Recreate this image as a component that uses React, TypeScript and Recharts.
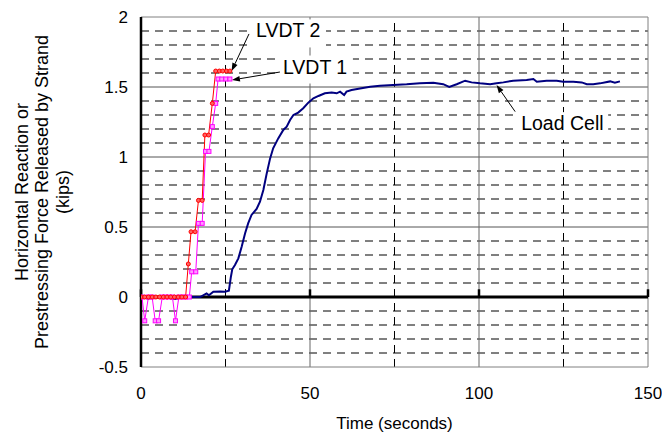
import React from 'react';
import { LineChart, Line, XAxis, YAxis, ReferenceLine } from 'recharts';

// ---- data (time in seconds, force in kips) ----
const lvdt2Time = [0, 1.1, 2.2, 3.3, 4.4, 5.5, 6.6, 7.7, 8.8, 9.9, 11.0, 12.1, 13.2, 14.0, 14.8, 16.0, 17.0, 18.1, 18.9, 20.0, 21.1, 22.1, 23.2, 24.2, 25.3, 26.3];
const lvdt2Force = [0, 0, 0, 0, 0, 0, 0, 0, 0, 0, 0, 0, 0, 0.236, 0.466, 0.466, 0.69, 0.69, 1.157, 1.157, 1.383, 1.614, 1.614, 1.614, 1.614, 1.614];

const lvdt1Time = [0.3, 1.1, 2.2, 3.3, 4.2, 5.2, 6.3, 7.3, 8.3, 9.3, 10.2, 11.2, 12.2, 13.2, 14.3, 15.0, 16.2, 17.0, 18.1, 19.1, 20.1, 21.1, 22.1, 22.8, 23.9, 25.1, 26.3];
const lvdt1Force = [0, -0.17, 0, 0, -0.17, -0.17, 0, 0, 0, 0, -0.17, 0, 0, 0, 0, 0.18, 0.18, 0.526, 0.526, 1.04, 1.04, 1.217, 1.383, 1.557, 1.557, 1.557, 1.557];

const loadCellTime = [0, 2, 4, 6, 8, 10, 11, 12, 14.5, 17.5, 19.4, 20.1, 21.4, 23.4, 24.85, 26.0, 26.6, 27.0, 27.8, 28.8, 29.8, 30.8, 31.7, 32.7, 34.2, 35.2, 36.2, 37.2, 38.2, 39.1, 40.6, 42.1, 43.1, 44.1, 45.1, 46.5, 48.0, 49.5, 51.0, 52.5, 54.4, 56.4, 57.9, 58.9, 60.1, 60.8, 62.3, 64.8, 67.8, 70.7, 74.6, 78.6, 82.5, 86.5, 89.4, 91.2, 93.4, 95.9, 97.8, 100.3, 103.3, 105.2, 107.2, 110.1, 114.1, 116.1, 117.1, 120.0, 123.0, 124.9, 127.9, 130.4, 131.9, 133.8, 135.8, 138.8, 140.2, 141.7];
const loadCellForce = [0, -0.01, -0.005, 0, -0.005, -0.015, -0.01, 0, 0, 0, 0.026, 0.012, 0.038, 0.04, 0.038, 0.045, 0.145, 0.198, 0.229, 0.276, 0.36, 0.455, 0.526, 0.586, 0.629, 0.681, 0.764, 0.883, 0.99, 1.062, 1.133, 1.193, 1.217, 1.264, 1.3, 1.317, 1.348, 1.388, 1.419, 1.436, 1.455, 1.46, 1.455, 1.467, 1.443, 1.467, 1.479, 1.49, 1.502, 1.509, 1.514, 1.519, 1.526, 1.53, 1.52, 1.5, 1.52, 1.545, 1.533, 1.526, 1.52, 1.526, 1.533, 1.545, 1.55, 1.557, 1.538, 1.545, 1.545, 1.538, 1.538, 1.533, 1.52, 1.52, 1.526, 1.54, 1.53, 1.54];

const xTicks = [0, 50, 100, 150];
const yTicks = [-0.5, 0, 0.5, 1, 1.5, 2];
const xMajorGrid = [50, 100];
const xMinorGrid = [25, 75, 125];
const yMajorGrid = [0.5, 1, 1.5];
const yMinorGrid = [-0.4, -0.3, -0.2, -0.1, 0.1, 0.2, 0.3, 0.4, 0.6, 0.7, 0.8, 0.9, 1.1, 1.2, 1.3, 1.4, 1.6, 1.7, 1.8, 1.9];
const zeroLineTicks = [0, 50, 100, 150];

const annotationLabels = ['LVDT 2', 'LVDT 1', 'Load Cell'];
const annotationTail = [
  { x: 31.95, y: 1.879 },
  { x: 41.1, y: 1.607 },
  { x: 110.7, y: 1.324 },
];
const annotationHead = [
  { x: 26.8, y: 1.614 },
  { x: 26.9, y: 1.55 },
  { x: 105.2, y: 1.514 },
];
// text placement relative to the arrow tail (pixels) - styling only
const annotationTextOffset = [
  { dx: 7, dy: 3.5, w: 66 },
  { dx: 3, dy: 1.5, w: 66 },
  { dx: 6, dy: 18.5, w: 83 },
];

const zip = (ts: number[], vs: number[]) => ts.slice(0, Math.min(ts.length, vs.length)).map((t, i) => ({ t, v: vs[i] }));
const lvdt2Data = zip(lvdt2Time, lvdt2Force);
const lvdt1Data = zip(lvdt1Time, lvdt1Force);
const loadCellData = zip(loadCellTime, loadCellForce);

const FONT = '"Liberation Sans", Arial, Helvetica, sans-serif';

const RedDot = (p: any) => {
  if (p.cx == null || p.cy == null) return <g key={p.index} />;
  return <circle key={p.index} cx={p.cx} cy={p.cy} r={2} fill="#ff6060" stroke="#ff0000" strokeWidth={1} />;
};
const MagentaDot = (p: any) => {
  if (p.cx == null || p.cy == null) return <g key={p.index} />;
  return <rect key={p.index} x={p.cx - 2} y={p.cy - 2} width={4} height={4} fill="#ff99ff" stroke="#ff00ff" strokeWidth={1} />;
};

const makeArrow = (label: string, off: { dx: number; dy: number; w: number }) => (p: any) => {
  const { x1, y1, x2, y2 } = p;
  if ([x1, y1, x2, y2].some((n) => n == null || isNaN(n))) return <g />;
  const ang = Math.atan2(y2 - y1, x2 - x1);
  const L = 8;
  const W = 2.8;
  const bx = x2 - L * Math.cos(ang);
  const by = y2 - L * Math.sin(ang);
  const px = -Math.sin(ang) * W;
  const py = Math.cos(ang) * W;
  const tx = x1 + off.dx;
  const ty = y1 + off.dy;
  return (
    <g>
      <rect x={tx - 4} y={ty - 18} width={off.w + 8} height={28} fill="#fff" />
      <line x1={x1} y1={y1} x2={bx} y2={by} stroke="#000" strokeWidth={1} />
      <polygon points={`${x2},${y2} ${bx + px},${by + py} ${bx - px},${by - py}`} fill="#000" />
      <text x={tx} y={ty} fontSize={19.5} fontFamily={FONT} fill="#000">
        {label}
      </text>
    </g>
  );
};

const XLabel = (props: any) => {
  const vb = props.viewBox || { x: 141, y: 367, width: 507, height: 60 };
  return (
    <text x={vb.x + vb.width / 2} y={428.5} textAnchor="middle" fontSize={17} fontFamily={FONT} fill="#000">
      Time (seconds)
    </text>
  );
};

const YLabel = (props: any) => {
  const vb = props.viewBox || { x: 0, y: 17, width: 141, height: 350 };
  const cy = vb.y + vb.height / 2;
  const lines = ['Horizontal Reaction or', 'Prestressing Force Released by Strand', '(kips)'];
  const xs = [27.5, 48, 68.5];
  return (
    <g>
      {lines.map((l, i) => (
        <text key={i} x={xs[i]} y={cy} transform={`rotate(-90 ${xs[i]} ${cy})`} textAnchor="middle" fontSize={18} fontFamily={FONT} fill="#000">
          {l}
        </text>
      ))}
    </g>
  );
};

export default function App() {
  return (
    <div style={{ position: 'absolute', left: 0, top: 0, width: 662, height: 432, background: '#fff' }}>
      <LineChart width={662} height={432} margin={{ top: 17, right: 14, bottom: 5, left: 0 }} style={{ fontFamily: FONT }}>
        <XAxis
          type="number"
          dataKey="t"
          domain={[0, 150]}
          ticks={xTicks}
          allowDataOverflow
          height={60}
          axisLine={false}
          tickLine={false}
          tickSize={0}
          tickMargin={20}
          tick={{ fill: '#000', fontSize: 17, fontFamily: FONT }}
          label={{ content: XLabel }}
        />
        <YAxis
          type="number"
          domain={[-0.5, 2]}
          ticks={yTicks}
          allowDataOverflow
          width={141}
          axisLine={false}
          tickLine={false}
          tickSize={0}
          tickMargin={13}
          tick={{ fill: '#000', fontSize: 17, fontFamily: FONT }}
          label={{ content: YLabel }}
        />
        {yMinorGrid.map((v) => (
          <ReferenceLine key={'ym' + v} y={v} stroke="#000" strokeWidth={1} strokeDasharray="8 6" ifOverflow="visible" />
        ))}
        {xMinorGrid.map((v) => (
          <ReferenceLine key={'xm' + v} x={v} stroke="#000" strokeWidth={1} strokeDasharray="8 6" ifOverflow="visible" />
        ))}
        {yMajorGrid.map((v) => (
          <ReferenceLine key={'yM' + v} y={v} stroke="#555" strokeWidth={1} ifOverflow="visible" />
        ))}
        {xMajorGrid.map((v) => (
          <ReferenceLine key={'xM' + v} x={v} stroke="#666" strokeWidth={1} ifOverflow="visible" />
        ))}
        <ReferenceLine y={2} stroke="#808080" strokeWidth={1} ifOverflow="visible" />
        <ReferenceLine y={-0.5} stroke="#808080" strokeWidth={1} ifOverflow="visible" />
        <ReferenceLine x={150} stroke="#808080" strokeWidth={1} ifOverflow="visible" />
        <ReferenceLine y={0} stroke="#000" strokeWidth={3} ifOverflow="visible" />
        <ReferenceLine x={0} stroke="#000" strokeWidth={2.5} ifOverflow="visible" />
        {zeroLineTicks.map((v) => (
          <ReferenceLine key={'zt' + v} segment={[{ x: v, y: 0 }, { x: v, y: 0.055 }]} stroke="#000" strokeWidth={2.5} ifOverflow="visible" />
        ))}
        <Line data={loadCellData} dataKey="v" type="linear" stroke="#000080" strokeWidth={2} dot={false} isAnimationActive={false} />
        <Line data={lvdt1Data} dataKey="v" type="linear" stroke="#ff00ff" strokeWidth={1} dot={MagentaDot} isAnimationActive={false} />
        <Line data={lvdt2Data} dataKey="v" type="linear" stroke="#ff0000" strokeWidth={1} dot={RedDot} isAnimationActive={false} />
        {annotationLabels.map((label, i) => (
          <ReferenceLine
            key={'ann' + i}
            segment={[annotationTail[i], annotationHead[i]]}
            ifOverflow="visible"
            shape={makeArrow(label, annotationTextOffset[i])}
          />
        ))}
      </LineChart>
    </div>
  );
}
